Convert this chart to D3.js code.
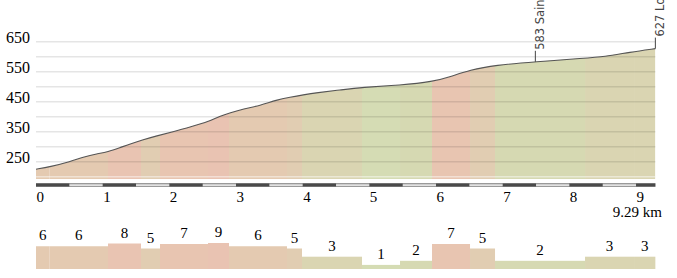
<!DOCTYPE html>
<html>
<head>
<meta charset="utf-8">
<script src="https://cdn.jsdelivr.net/npm/d3@7"></script>
<style>
  body { margin: 0; background: #fff; }
  svg { display: block; }
  .serif { font-family: "Liberation Serif", "Times New Roman", Times, serif; }
  .sans { font-family: "DejaVu Sans", Verdana, sans-serif; }
</style>
</head>
<body>
<svg id="profile" width="677" height="278"></svg>
<script>
// Profil altimétrique : distance (km) et altitude (m)
var distKm = [0, 0.21, 0.51, 0.73, 0.91, 1.08, 1.26, 1.41, 1.59, 1.81, 2.06, 2.36, 2.58, 2.76, 2.91,
    3.11, 3.36, 3.61, 3.81, 4.01, 4.21, 4.56, 4.89, 5.46, 5.96, 6.21, 6.51, 6.89, 7.49, 8.23, 8.52, 8.91, 9.29];
var elevation = [225, 233, 250, 267, 276, 283, 297, 309, 322, 336, 350, 369, 383, 402, 413,
    426, 437, 456, 465, 473, 480, 489, 498, 505, 517, 533, 556, 572, 583, 595, 600, 615, 627];

// Tronçons de pente (bornes en km) et pente en %
var segEdges = [0, 0.2, 1.08, 1.575, 1.86, 2.58, 2.895, 3.765, 3.99, 4.89, 5.46, 5.94, 6.51, 6.885, 8.235, 8.97, 9.29];
var grades = [6, 6, 8, 5, 7, 9, 6, 5, 3, 1, 2, 7, 5, 2, 3, 3];

// Repères
var waypointKm = [7.49, 9.29];
var waypointElev = [583, 627];
var waypointName = ["Saint-Martin", "Lozanne"];

var yTicks = [250, 350, 450, 550, 650];
var xTicks = [0, 1, 2, 3, 4, 5, 6, 7, 8, 9];
var totalKm = 9.29;

var svg = d3.select("#profile");

var x = d3.scaleLinear().domain([0, totalKm]).range([36, 36 + totalKm * 66.67]);
var y = d3.scaleLinear().domain([200, 650]).range([176.7, 41.7]);
var baseY = 179;

var color = d3.scaleLinear()
    .domain([1, 2, 3, 5, 6, 7, 9])
    .range(["#d5dcb4", "#d6d9b2", "#dad5b2", "#e1cdb2", "#e4cab1", "#e8c5b1", "#e9c3b2"]);

var hScale = d3.scaleLinear().domain([0, 5, 7, 9]).range([0, 20.5, 25, 26]).clamp(true);

var segs = grades.map(function (g, i) { return { g: g, a: segEdges[i], b: segEdges[i + 1] }; });
var pts = distKm.map(function (d, i) { return { d: d, e: elevation[i] }; });

var area = d3.area()
    .x(function (p) { return x(p.d); })
    .y0(baseY)
    .y1(function (p) { return y(p.e); })
    .curve(d3.curveBasis);

var line = d3.line()
    .x(function (p) { return x(p.d); })
    .y(function (p) { return y(p.e); })
    .curve(d3.curveBasis);

svg.append("clipPath").attr("id", "clip-area")
    .append("path").attr("d", area(pts));

// Bandes colorées sous le profil
svg.append("g").attr("clip-path", "url(#clip-area)")
    .selectAll("rect")
    .data(segs)
    .enter().append("rect")
    .attr("x", function (s) { return x(s.a); })
    .attr("width", function (s) { return x(s.b) - x(s.a); })
    .attr("y", 30)
    .attr("height", baseY - 30)
    .attr("fill", function (s) { return color(s.g); });

// Grille
svg.append("g").selectAll("line")
    .data(d3.range(250, 651, 50))
    .enter().append("line")
    .attr("x1", x(0)).attr("x2", x(totalKm))
    .attr("y1", function (v) { return y(v); })
    .attr("y2", function (v) { return y(v); })
    .attr("stroke", "#000")
    .attr("stroke-opacity", 0.1)
    .attr("stroke-width", 1.5);

svg.append("line")
    .attr("x1", x(0)).attr("x2", x(totalKm))
    .attr("y1", y(200)).attr("y2", y(200))
    .attr("stroke", "#fff").attr("stroke-opacity", 0.45).attr("stroke-width", 1.5);

svg.append("path")
    .attr("d", line(pts))
    .attr("fill", "none")
    .attr("stroke", "#555")
    .attr("stroke-width", 1.1);

// Libellés des altitudes
svg.append("g").selectAll("text")
    .data(yTicks)
    .enter().append("text")
    .attr("class", "serif")
    .attr("x", 6)
    .attr("y", function (v) { return y(v) + 1; })
    .style("font-size", "16px")
    .attr("fill", "#000")
    .text(function (v) { return v; });

// Barre d'échelle
svg.append("rect")
    .attr("x", x(0)).attr("width", x(totalKm) - x(0))
    .attr("y", 183).attr("height", 4)
    .attr("fill", "#9a9a9a");
svg.append("rect")
    .attr("x", x(0)).attr("width", x(totalKm) - x(0))
    .attr("y", 184.5).attr("height", 1.2)
    .attr("fill", "#fff");
svg.append("g").selectAll("rect")
    .data(d3.range(0, totalKm, 1))
    .enter().append("rect")
    .attr("x", function (k) { return x(k); })
    .attr("width", function (k) { return x(Math.min(k + 0.5, totalKm)) - x(k); })
    .attr("y", 183.5).attr("height", 3)
    .attr("fill", "#4a4a4a");

svg.append("g").selectAll("text")
    .data(xTicks)
    .enter().append("text")
    .attr("class", "serif")
    .attr("x", function (k) { return x(k) + 0.5; })
    .attr("y", 201.5)
    .style("font-size", "15px")
    .text(function (k) { return k; });

svg.append("text")
    .attr("class", "serif")
    .attr("x", 662).attr("y", 216.5)
    .attr("text-anchor", "end")
    .style("font-size", "15px")
    .text(totalKm + " km");

// Repères verticaux
var wp = svg.append("g").selectAll("g")
    .data(waypointKm.map(function (k, i) { return { k: k, e: waypointElev[i], n: waypointName[i] }; }))
    .enter().append("g")
    .attr("transform", function (w) { return "translate(" + x(w.k) + "," + y(w.e) + ")"; });
wp.append("line")
    .attr("x1", 0).attr("x2", 0).attr("y1", 0).attr("y2", -11)
    .attr("stroke", "#444").attr("stroke-width", 1);
wp.append("text")
    .attr("class", "sans")
    .attr("transform", "translate(9,-12) rotate(-90)")
    .style("font-size", "11.5px")
    .attr("fill", "#444")
    .text(function (w) { return w.e + " " + w.n; });

// Histogramme des pentes
var barBase = 269;
svg.append("g").selectAll("rect")
    .data(segs)
    .enter().append("rect")
    .attr("x", function (s) { return x(s.a); })
    .attr("width", function (s) { return x(s.b) - x(s.a); })
    .attr("y", function (s) { return barBase - hScale(s.g); })
    .attr("height", function (s) { return hScale(s.g); })
    .attr("fill", function (s) { return color(s.g); });

svg.append("g").selectAll("text")
    .data(segs)
    .enter().append("text")
    .attr("class", "serif")
    .attr("x", function (s) { return (x(s.a) + x(s.b)) / 2; })
    .attr("y", function (s) { return barBase - hScale(s.g) - 6; })
    .attr("text-anchor", "middle")
    .style("font-size", "15px")
    .text(function (s) { return s.g; });
</script>
</body>
</html>
